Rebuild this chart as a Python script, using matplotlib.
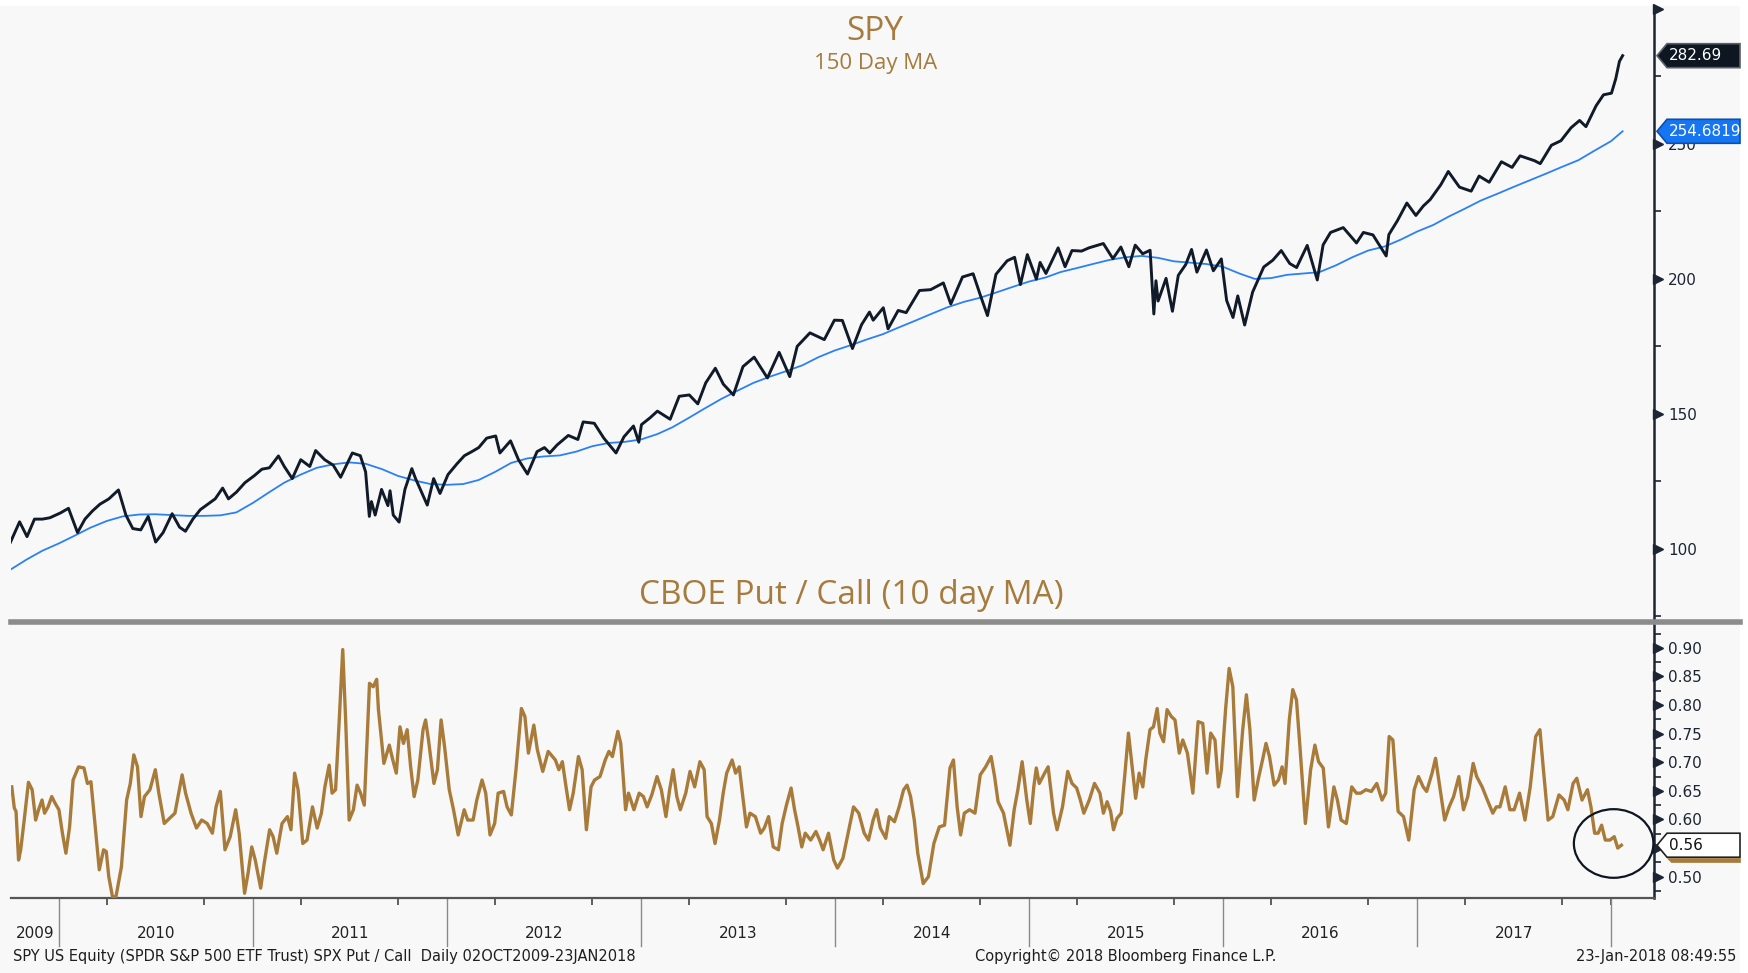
import numpy as np
import pandas as pd
import matplotlib
matplotlib.use("Agg")
import matplotlib.pyplot as plt
import matplotlib.transforms as mtransforms
from matplotlib.patches import Ellipse, Rectangle, Polygon
from matplotlib.lines import Line2D

# ---------------- data ----------------
spy_dates = [
    "2009-10-02", "2009-10-19", "2009-11-02", "2009-11-16", "2009-12-01", "2009-12-15",
    "2010-01-04", "2010-01-19", "2010-02-05", "2010-02-19", "2010-03-05", "2010-03-19",
    "2010-04-05", "2010-04-23", "2010-05-07", "2010-05-20", "2010-06-04", "2010-06-18",
    "2010-07-02", "2010-07-16", "2010-08-02", "2010-08-16", "2010-08-27", "2010-09-10",
    "2010-09-24", "2010-10-08", "2010-10-22", "2010-11-05", "2010-11-16", "2010-12-01",
    "2010-12-17", "2011-01-03", "2011-01-18", "2011-02-01", "2011-02-18", "2011-03-01",
    "2011-03-16", "2011-04-01", "2011-04-18", "2011-04-29", "2011-05-16", "2011-06-01",
    "2011-06-15", "2011-07-07", "2011-07-22", "2011-08-01", "2011-08-08", "2011-08-12",
    "2011-08-19", "2011-08-31", "2011-09-12", "2011-09-16", "2011-09-22", "2011-10-03",
    "2011-10-14", "2011-10-27", "2011-11-03", "2011-11-25", "2011-12-07", "2011-12-19",
    "2012-01-03", "2012-01-20", "2012-02-03", "2012-02-17", "2012-03-01", "2012-03-16",
    "2012-04-02", "2012-04-10", "2012-04-30", "2012-05-15", "2012-06-01", "2012-06-19",
    "2012-07-03", "2012-07-13", "2012-07-27", "2012-08-17", "2012-09-04", "2012-09-14",
    "2012-10-05", "2012-10-23", "2012-11-15", "2012-11-30", "2012-12-18", "2012-12-28",
    "2013-01-02", "2013-01-18", "2013-02-01", "2013-02-25", "2013-03-14", "2013-04-02",
    "2013-04-18", "2013-05-03", "2013-05-21", "2013-06-05", "2013-06-24", "2013-07-12",
    "2013-08-02", "2013-08-27", "2013-09-18", "2013-10-08", "2013-10-22", "2013-11-15",
    "2013-12-12", "2013-12-31", "2014-01-15", "2014-02-03", "2014-02-20", "2014-03-07",
    "2014-03-14", "2014-04-02", "2014-04-11", "2014-04-30", "2014-05-15", "2014-06-09",
    "2014-06-30", "2014-07-24", "2014-08-07", "2014-08-29", "2014-09-18", "2014-10-01",
    "2014-10-15", "2014-10-31", "2014-11-21", "2014-12-05", "2014-12-16", "2014-12-29",
    "2015-01-15", "2015-01-22", "2015-02-02", "2015-02-25", "2015-03-10", "2015-03-23",
    "2015-04-10", "2015-04-24", "2015-05-21", "2015-06-08", "2015-06-23", "2015-07-08",
    "2015-07-20", "2015-08-03", "2015-08-17", "2015-08-24", "2015-08-28", "2015-09-01",
    "2015-09-16", "2015-09-28", "2015-10-09", "2015-10-23", "2015-11-03", "2015-11-13",
    "2015-12-01", "2015-12-14", "2015-12-29", "2016-01-08", "2016-01-20", "2016-01-29",
    "2016-02-11", "2016-02-26", "2016-03-18", "2016-04-04", "2016-04-20", "2016-05-06",
    "2016-05-19", "2016-06-08", "2016-06-27", "2016-07-08", "2016-07-22", "2016-08-15",
    "2016-09-09", "2016-09-22", "2016-10-10", "2016-11-04", "2016-11-09", "2016-11-25",
    "2016-12-13", "2016-12-30", "2017-01-13", "2017-01-26", "2017-02-15", "2017-03-01",
    "2017-03-22", "2017-04-13", "2017-04-28", "2017-05-17", "2017-06-09", "2017-06-29",
    "2017-07-14", "2017-08-10", "2017-08-21", "2017-09-11", "2017-09-29", "2017-10-18",
    "2017-11-03", "2017-11-15", "2017-12-04", "2017-12-18", "2018-01-02", "2018-01-10",
    "2018-01-17", "2018-01-23",
]
spy_close = [
    102.5, 110.0, 104.5, 111.0, 111.0, 111.5,
    113.3, 115.0, 106.0, 111.0, 114.0, 116.5,
    118.5, 121.8, 112.5, 107.5, 107.0, 112.0,
    102.5, 106.0, 113.0, 108.0, 106.5, 111.0,
    114.5, 116.5, 118.5, 122.5, 118.5, 121.0,
    124.5, 127.0, 129.5, 130.0, 134.4, 130.5,
    126.0, 133.0, 130.5, 136.4, 133.0, 131.0,
    126.5, 135.5, 134.5, 128.5, 112.0, 117.5,
    112.5, 122.0, 116.0, 121.5, 112.5, 109.9,
    122.0, 129.7, 126.0, 116.2, 126.0, 120.5,
    127.5, 131.5, 134.5, 136.0, 137.5, 141.0,
    141.8, 135.5, 140.0, 133.0, 127.7, 136.0,
    137.5, 135.5, 138.5, 142.0, 140.5, 147.0,
    146.5, 141.0, 135.5, 141.5, 145.5, 139.5,
    146.0, 148.5, 151.0, 148.0, 156.5, 157.0,
    153.7, 161.5, 166.9, 161.0, 157.0, 167.5,
    171.0, 163.3, 172.8, 163.8, 175.0, 180.0,
    177.5, 184.7, 184.6, 174.2, 183.0, 187.7,
    184.7, 189.3, 181.5, 188.3, 187.5, 195.7,
    196.0, 198.5, 190.7, 200.7, 201.9, 194.3,
    186.4, 201.7, 206.7, 208.0, 197.9, 209.0,
    199.9, 206.1, 202.0, 211.5, 204.5, 210.5,
    210.3, 211.5, 213.1, 207.5, 211.8, 204.5,
    212.5, 209.3, 210.6, 187.0, 199.3, 191.8,
    200.2, 188.0, 201.3, 205.3, 210.9, 202.5,
    210.7, 203.0, 207.4, 192.0, 185.7, 193.7,
    182.9, 195.1, 204.4, 206.9, 210.5, 205.7,
    204.2, 212.4, 199.6, 212.6, 217.2, 219.0,
    213.3, 217.2, 216.3, 208.5, 216.4, 221.5,
    228.1, 223.5, 227.0, 229.4, 234.9, 239.8,
    234.0, 232.5, 238.1, 235.8, 243.4, 241.3,
    245.6, 243.8, 242.7, 249.5, 251.2, 256.0,
    258.7, 256.4, 264.1, 268.2, 268.8, 274.1,
    280.6, 282.69,
]

ma_dates = [
    "2009-10-02", "2009-11-01", "2009-12-01", "2010-01-01", "2010-02-01", "2010-03-01",
    "2010-04-01", "2010-05-01", "2010-06-01", "2010-07-01", "2010-08-01", "2010-09-01",
    "2010-10-01", "2010-11-01", "2010-12-01", "2011-01-01", "2011-02-01", "2011-03-01",
    "2011-04-01", "2011-05-01", "2011-06-01", "2011-07-01", "2011-08-01", "2011-09-01",
    "2011-10-01", "2011-11-01", "2011-12-01", "2012-01-01", "2012-02-01", "2012-03-01",
    "2012-04-01", "2012-05-01", "2012-06-01", "2012-07-01", "2012-08-01", "2012-09-01",
    "2012-10-01", "2012-11-01", "2012-12-01", "2013-01-01", "2013-02-01", "2013-03-01",
    "2013-04-01", "2013-05-01", "2013-06-01", "2013-07-01", "2013-08-01", "2013-09-01",
    "2013-10-01", "2013-11-01", "2013-12-01", "2014-01-01", "2014-02-01", "2014-03-01",
    "2014-04-01", "2014-05-01", "2014-06-01", "2014-07-01", "2014-08-01", "2014-09-01",
    "2014-10-01", "2014-11-01", "2014-12-01", "2015-01-01", "2015-02-01", "2015-03-01",
    "2015-04-01", "2015-05-01", "2015-06-01", "2015-07-01", "2015-08-01", "2015-09-01",
    "2015-10-01", "2015-11-01", "2015-12-01", "2016-01-01", "2016-02-01", "2016-03-01",
    "2016-04-01", "2016-05-01", "2016-06-01", "2016-07-01", "2016-08-01", "2016-09-01",
    "2016-10-01", "2016-11-01", "2016-12-01", "2017-01-01", "2017-02-01", "2017-03-01",
    "2017-04-01", "2017-05-01", "2017-06-01", "2017-07-01", "2017-08-01", "2017-09-01",
    "2017-10-01", "2017-11-01", "2017-12-01", "2018-01-01", "2018-01-23",
]
ma_150 = [
    92.3, 96.0, 99.3, 102.0, 105.0, 107.8,
    110.3, 112.0, 112.7, 112.8, 112.5, 112.2,
    112.2, 112.4, 113.5, 117.0, 121.0, 124.5,
    127.5, 130.0, 131.3, 132.0, 131.5, 129.5,
    127.0, 125.3, 124.0, 123.7, 124.0, 125.5,
    128.5, 131.8, 133.5, 134.2, 134.6, 136.0,
    138.0, 139.2, 139.6, 140.5, 142.5, 145.0,
    148.5, 152.0, 155.5, 158.5, 161.5, 163.8,
    165.8, 168.0, 171.0, 173.5, 175.5, 177.5,
    179.5, 182.0, 184.5, 187.0, 189.5, 191.5,
    193.0, 195.0, 197.0, 199.0, 200.5, 202.5,
    204.0, 205.5, 207.0, 208.0, 208.5, 207.8,
    206.5, 206.0, 205.5, 204.5, 202.0, 200.0,
    200.3, 201.5, 202.0, 202.5, 205.0, 208.0,
    210.5, 212.0, 214.5, 217.5, 220.0, 223.0,
    226.0, 229.0, 231.5, 234.0, 236.5, 239.0,
    241.5, 244.0, 247.5, 251.0, 254.6819,
]

# CBOE put/call 10-day MA (dates in decimal years)
pc_time = [
    2009.757, 2009.770, 2009.779, 2009.792, 2009.803, 2009.821, 2009.843, 2009.862, 2009.880, 2009.895,
    2009.913, 2009.926, 2009.944, 2009.963, 2009.981, 2010.000, 2010.018, 2010.036, 2010.055, 2010.073,
    2010.101, 2010.129, 2010.147, 2010.165, 2010.184, 2010.208, 2010.230, 2010.244, 2010.257, 2010.276,
    2010.294, 2010.322, 2010.349, 2010.368, 2010.386, 2010.405, 2010.423, 2010.441, 2010.469, 2010.497,
    2010.515, 2010.543, 2010.561, 2010.598, 2010.635, 2010.653, 2010.681, 2010.709, 2010.736, 2010.764,
    2010.791, 2010.810, 2010.832, 2010.856, 2010.883, 2010.911, 2010.929, 2010.957, 2010.975, 2010.994,
    2011.012, 2011.040, 2011.058, 2011.086, 2011.104, 2011.123, 2011.150, 2011.178, 2011.196, 2011.215,
    2011.233, 2011.257, 2011.279, 2011.307, 2011.331, 2011.353, 2011.371, 2011.393, 2011.408, 2011.426,
    2011.445, 2011.463, 2011.478, 2011.496, 2011.518, 2011.537, 2011.555, 2011.574, 2011.601, 2011.620,
    2011.638, 2011.647, 2011.675, 2011.703, 2011.721, 2011.739, 2011.758, 2011.776, 2011.795, 2011.813,
    2011.831, 2011.850, 2011.877, 2011.890, 2011.905, 2011.933, 2011.951, 2011.970, 2011.988, 2012.012,
    2012.034, 2012.058, 2012.089, 2012.107, 2012.135, 2012.154, 2012.181, 2012.200, 2012.222, 2012.246,
    2012.264, 2012.292, 2012.310, 2012.332, 2012.356, 2012.384, 2012.402, 2012.420, 2012.448, 2012.466,
    2012.494, 2012.522,
    2012.559, 2012.577, 2012.595, 2012.614, 2012.632, 2012.651, 2012.678, 2012.697, 2012.719,
    2012.743, 2012.761, 2012.789, 2012.816, 2012.835, 2012.853, 2012.881, 2012.896, 2012.921, 2012.936,
    2012.964, 2012.991, 2013.013, 2013.032, 2013.056, 2013.083, 2013.105, 2013.129, 2013.148, 2013.166,
    2013.185, 2013.203, 2013.231, 2013.253, 2013.277, 2013.304, 2013.326, 2013.341, 2013.363, 2013.382,
    2013.405, 2013.424, 2013.442, 2013.470, 2013.488, 2013.507, 2013.525, 2013.544, 2013.562, 2013.590,
    2013.617, 2013.636, 2013.658, 2013.682, 2013.709, 2013.728, 2013.750, 2013.774, 2013.792, 2013.810,
    2013.829, 2013.847, 2013.875, 2013.902, 2013.921, 2013.939, 2013.967, 2013.994, 2014.013, 2014.041,
    2014.068, 2014.096, 2014.123, 2014.151, 2014.173, 2014.197, 2014.215, 2014.234, 2014.262, 2014.280,
    2014.307, 2014.331, 2014.354, 2014.372, 2014.390, 2014.409, 2014.427, 2014.455, 2014.482, 2014.510,
    2014.538, 2014.565, 2014.593, 2014.611, 2014.630, 2014.648, 2014.667, 2014.694, 2014.722, 2014.749,
    2014.777, 2014.805, 2014.823, 2014.841, 2014.869, 2014.902, 2014.924, 2014.943, 2014.965, 2014.989,
    2015.007, 2015.025, 2015.038, 2015.053, 2015.081, 2015.099, 2015.127, 2015.145, 2015.173, 2015.200,
    2015.222, 2015.246, 2015.265, 2015.283, 2015.311, 2015.338,
    2015.366, 2015.384, 2015.403, 2015.421, 2015.436, 2015.454, 2015.476, 2015.495, 2015.513, 2015.532,
    2015.550, 2015.568, 2015.587, 2015.602, 2015.624, 2015.642, 2015.661, 2015.675, 2015.694, 2015.712,
    2015.734, 2015.753, 2015.775, 2015.793, 2015.817, 2015.845, 2015.872, 2015.896, 2015.918, 2015.937,
    2015.959, 2015.977, 2015.992, 2016.014, 2016.032, 2016.051, 2016.075, 2016.102, 2016.121, 2016.139,
    2016.161, 2016.185, 2016.204, 2016.222, 2016.240, 2016.264, 2016.286, 2016.305, 2016.320, 2016.342,
    2016.360, 2016.379, 2016.397, 2016.425, 2016.452, 2016.474, 2016.493, 2016.517, 2016.544, 2016.572,
    2016.590, 2016.609, 2016.636, 2016.664, 2016.688, 2016.710, 2016.737, 2016.765, 2016.793, 2016.820,
    2016.839, 2016.857, 2016.876, 2016.903, 2016.931, 2016.958, 2016.986, 2017.008, 2017.032, 2017.050,
    2017.078, 2017.096, 2017.115, 2017.143, 2017.166, 2017.189, 2017.216, 2017.240, 2017.262, 2017.290,
    2017.308, 2017.336, 2017.363, 2017.391, 2017.409, 2017.428, 2017.455, 2017.479, 2017.501, 2017.529,
    2017.557, 2017.584, 2017.612, 2017.634, 2017.652, 2017.676, 2017.700, 2017.732, 2017.759, 2017.778,
    2017.805, 2017.824, 2017.851, 2017.879, 2017.897, 2017.916, 2017.934, 2017.952, 2017.971, 2017.995,
    2018.017, 2018.035, 2018.054,
]
pc_ratio = [
    0.657, 0.620, 0.614, 0.529, 0.547, 0.599, 0.665, 0.652, 0.599, 0.617,
    0.634, 0.611, 0.622, 0.640, 0.628, 0.617, 0.576, 0.541, 0.587, 0.669,
    0.692, 0.690, 0.663, 0.666, 0.599, 0.512, 0.547, 0.544, 0.500, 0.465,
    0.465, 0.517, 0.634, 0.663, 0.713, 0.692, 0.605, 0.640, 0.652, 0.687,
    0.646, 0.593, 0.599, 0.611, 0.678, 0.646, 0.611, 0.585, 0.599, 0.593,
    0.576, 0.622, 0.649, 0.547, 0.570, 0.617, 0.576, 0.471, 0.506, 0.552,
    0.529, 0.480, 0.523, 0.582, 0.570, 0.541, 0.593, 0.605, 0.582, 0.681,
    0.652, 0.558, 0.564, 0.622, 0.585, 0.611, 0.657, 0.695, 0.646, 0.652,
    0.774, 0.897, 0.774, 0.599, 0.617, 0.660, 0.646, 0.625, 0.838, 0.832,
    0.845, 0.792, 0.698, 0.730, 0.704, 0.681, 0.762, 0.733, 0.757, 0.692,
    0.640, 0.669, 0.757, 0.774, 0.739, 0.663, 0.687, 0.774, 0.727, 0.652,
    0.617, 0.573, 0.617, 0.599, 0.599, 0.634, 0.669, 0.646, 0.573, 0.593,
    0.646, 0.649, 0.622, 0.608, 0.687, 0.794, 0.780, 0.716, 0.765, 0.722,
    0.684, 0.719,
    0.704, 0.687, 0.701, 0.657, 0.617, 0.646, 0.710, 0.687, 0.582,
    0.657, 0.669, 0.675, 0.704, 0.719, 0.710, 0.754, 0.733, 0.617, 0.646,
    0.617, 0.646, 0.640, 0.622, 0.643, 0.675, 0.652, 0.605, 0.652, 0.687,
    0.640, 0.617, 0.646, 0.684, 0.657, 0.701, 0.687, 0.605, 0.593, 0.558,
    0.599, 0.646, 0.681, 0.704, 0.681, 0.692, 0.640, 0.587, 0.611, 0.605,
    0.576, 0.585, 0.605, 0.552, 0.547, 0.593, 0.625, 0.655, 0.617, 0.587,
    0.552, 0.576, 0.564, 0.579, 0.564, 0.547, 0.576, 0.529, 0.515, 0.532,
    0.576, 0.622, 0.611, 0.576, 0.564, 0.599, 0.617, 0.585, 0.567, 0.605,
    0.596, 0.622, 0.652, 0.660, 0.640, 0.599, 0.541, 0.488, 0.500, 0.558,
    0.587, 0.590, 0.690, 0.704, 0.622, 0.573, 0.611, 0.617, 0.611, 0.678,
    0.692, 0.710, 0.675, 0.631, 0.611, 0.555, 0.617, 0.652, 0.701, 0.634,
    0.593, 0.657, 0.690, 0.663, 0.681, 0.692, 0.611, 0.582, 0.622, 0.684,
    0.663, 0.655, 0.634, 0.611, 0.634, 0.663,
    0.646, 0.611, 0.631, 0.614, 0.582, 0.602, 0.611, 0.681, 0.751, 0.692,
    0.637, 0.681, 0.657, 0.704, 0.757, 0.762, 0.794, 0.751, 0.736, 0.792,
    0.780, 0.774, 0.716, 0.739, 0.716, 0.646, 0.771, 0.768, 0.681, 0.751,
    0.739, 0.657, 0.687, 0.794, 0.864, 0.832, 0.640, 0.757, 0.818, 0.757,
    0.634, 0.675, 0.704, 0.733, 0.710, 0.660, 0.669, 0.692, 0.663, 0.774,
    0.827, 0.809, 0.727, 0.593, 0.687, 0.730, 0.701, 0.690, 0.587, 0.657,
    0.634, 0.599, 0.593, 0.657, 0.646, 0.646, 0.652, 0.649, 0.663, 0.634,
    0.646, 0.745, 0.739, 0.614, 0.605, 0.564, 0.652, 0.675, 0.657, 0.649,
    0.681, 0.707, 0.663, 0.599, 0.622, 0.640, 0.675, 0.617, 0.640, 0.698,
    0.675, 0.657, 0.634, 0.611, 0.622, 0.622, 0.657, 0.617, 0.617, 0.646,
    0.599, 0.657, 0.745, 0.757, 0.687, 0.599, 0.605, 0.643, 0.634, 0.617,
    0.663, 0.672, 0.634, 0.652, 0.622, 0.576, 0.576, 0.590, 0.564, 0.564,
    0.570, 0.550, 0.555,
]

years = [2009, 2010, 2011, 2012, 2013, 2014, 2015, 2016, 2017]
spy_ticks = [100, 150, 200, 250, 300]
pc_ticks = [0.50, 0.55, 0.60, 0.65, 0.70, 0.75, 0.80, 0.85, 0.90]

footer_left = "SPY US Equity (SPDR S&P 500 ETF Trust) SPX Put / Call  Daily 02OCT2009-23JAN2018"
footer_mid = "Copyright\u00a9 2018 Bloomberg Finance L.P."
footer_right = "23-Jan-2018 08:49:55"


def to_year(dates):
    d = pd.to_datetime(dates)
    days = np.where(d.is_leap_year, 366.0, 365.0)
    return (d.year + (d.dayofyear - 1) / days).to_numpy()


spy_t = to_year(spy_dates)
ma_t = to_year(ma_dates)

# ---------------- style ----------------
BG = "#f8f8f8"
BROWN = "#a57b3e"
PC_COL = "#a97b3a"
NAVY = "#101a28"
BLUE = "#2b80f6"
TXT = "#1c2533"

W, H = 1749, 973
fig = plt.figure(figsize=(W / 100, H / 100), dpi=100, facecolor="white")
fig.add_artist(Rectangle((0, 0), 1740 / W, 1 - 6 / H, transform=fig.transFigure,
                         facecolor=BG, edgecolor="none", zorder=-10))

L, R = 11 / W, 1654 / W
ax1 = fig.add_axes([L, 1 - 621 / H, R - L, (621 - 6) / H])
ax2 = fig.add_axes([L, 1 - 898 / H, R - L, (898 - 625) / H])

XMIN, XMAX = 2009.753, 2018.222
for ax in (ax1, ax2):
    ax.set_facecolor(BG)
    ax.set_xlim(XMIN, XMAX)
    for s in ("left", "top"):
        ax.spines[s].set_visible(False)
    ax.spines["right"].set_color(TXT)
    ax.spines["right"].set_linewidth(1.8)
    ax.yaxis.tick_right()
    ax.tick_params(axis="y", which="major", length=0, pad=10, labelsize=11, labelcolor=TXT)
    ax.tick_params(axis="y", which="minor", length=5, width=1.2, color=TXT, direction="out")

# ---- top panel ----
ax1.spines["bottom"].set_visible(False)
ax1.set_xticks([])
ax1.set_ylim(73.25, 301.1)
ax1.plot(ma_t, ma_150, color=BLUE, lw=1.3, zorder=3)
ax1.plot(spy_t, spy_close, color=NAVY, lw=2.1, zorder=4, solid_joinstyle="round")
ax1.set_yticks(spy_ticks)
ax1.set_yticklabels([str(v) if v != 300 else "" for v in spy_ticks])
ax1.set_yticks([75, 125, 175, 225, 275], minor=True)

# ---- bottom panel ----
ax2.set_ylim(0.4627, 0.940)
ax2.plot(pc_time, pc_ratio, color=PC_COL, lw=2.4, zorder=4, solid_joinstyle="round")
ax2.set_yticks(pc_ticks)
# 0.55 sits under the last-value flag in the reference
ax2.set_yticklabels(["" if abs(v - 0.55) < 1e-9 else f"{v:.2f}" for v in pc_ticks])
ax2.set_yticks(list(np.arange(0.475, 0.94, 0.05)), minor=True)
ax2.spines["bottom"].set_color("#555555")
ax2.spines["bottom"].set_linewidth(1.6)

centers = [(XMIN + 2010) / 2] + [y + 0.5 for y in years[1:]]
ax2.set_xticks(centers)
ax2.set_xticklabels([str(y) for y in years])
ax2.tick_params(axis="x", which="major", length=0, pad=20, labelsize=11, labelcolor="#222222")
quarters = [y + q for y in range(2010, 2018) for q in (0.25, 0.5, 0.75)] + [2018.0]
quarters = [q for q in quarters if XMIN < q < XMAX]
ax2.set_xticks(quarters, minor=True)
ax2.tick_params(axis="x", which="minor", length=5, width=1.2, color="#444444", direction="out")

# year boundary lines below the axis
trans_xb = mtransforms.blended_transform_factory(ax2.transData, ax2.transAxes)
for yb in range(2010, 2019):
    ax2.plot([yb, yb], [0, -0.175], transform=trans_xb, color="#8a8a8a", lw=1.0, clip_on=False)

# triangle major ticks on the right spine
for ax, vals in ((ax1, spy_ticks), (ax2, pc_ticks)):
    tr = mtransforms.blended_transform_factory(ax.transAxes, ax.transData) + \
        mtransforms.ScaledTranslation(4 / 100, 0, fig.dpi_scale_trans)
    ax.plot([1.0] * len(vals), vals, linestyle="none", marker=">", markersize=7,
            color=TXT, transform=tr, clip_on=False, zorder=6)

# separator between panels
fig.add_artist(Line2D([L, 1740 / W], [1 - 622 / H] * 2, color="#8c8c8c", lw=4,
                      transform=fig.transFigure))

# value flags on the right (pentagon pointing at the last value)
IDT = mtransforms.IdentityTransform()


def flag(ax, yval, text, fc, ec, tc, under=None):
    x0 = ax.transAxes.transform((1.0, 0.0))[0]
    yd = ax.transData.transform((0.0, yval))[1]
    h = 12
    tip, body, right = x0 + 3, x0 + 13, 1740
    pts = [(tip, yd), (body, yd + h), (right, yd + h), (right, yd - h), (body, yd - h)]
    fig.add_artist(Polygon(pts, closed=True, transform=IDT, fc=fc, ec=ec, lw=1.2, zorder=20))
    if under is not None:
        fig.add_artist(Polygon([(body, yd - h - 1), (right, yd - h - 1), (right, yd - h - 5),
                                (body + 4, yd - h - 5)], closed=True, transform=IDT,
                               fc=under, ec=under, lw=0.5, zorder=19))
    fig.text(body + 2, yd, text, transform=IDT, ha="left", va="center", fontsize=11,
             color=tc, zorder=21)


flag(ax1, spy_close[-1], f"{spy_close[-1]:.2f}", "#0d1621", "#5a6068", "white")
flag(ax1, ma_150[-1], f"{ma_150[-1]:.4f}", "#1675f2", "#0b4fb0", "white")
flag(ax2, pc_ratio[-1], f"{pc_ratio[-1]:.2f}", "white", "#222222", "#111111", under=PC_COL)

# circle around the latest put/call readings
ax2.add_patch(Ellipse((pc_time[-1] - 0.04, pc_ratio[-1] + 0.003), width=0.41, height=0.12,
                      fill=False, ec="#0d1621", lw=1.6, zorder=7, clip_on=False))

# titles
title_font = ["Open Sans", "DejaVu Sans"]
fig.text(875 / W, 1 - 31 / H, "SPY", ha="center", va="center", fontsize=24,
         color=BROWN, family=title_font)
fig.text(876 / W, 1 - 64 / H, "150 Day MA", ha="center", va="center", fontsize=16,
         color=BROWN, family=title_font)
fig.text(851 / W, 1 - 596 / H, "CBOE Put / Call (10 day MA)", ha="center", va="center",
         fontsize=24, color=BROWN, family=title_font)

# footer
fig.text(13 / W, 1 - 956 / H, footer_left, ha="left", va="center", fontsize=10.5, color="#1e1e1e")
fig.text(1126 / W, 1 - 956 / H, footer_mid, ha="center", va="center", fontsize=10.5, color="#1e1e1e")
fig.text(1736 / W, 1 - 956 / H, footer_right, ha="right", va="center", fontsize=10.5, color="#1e1e1e")

fig.savefig("out.png", dpi=100, facecolor=fig.get_facecolor())
